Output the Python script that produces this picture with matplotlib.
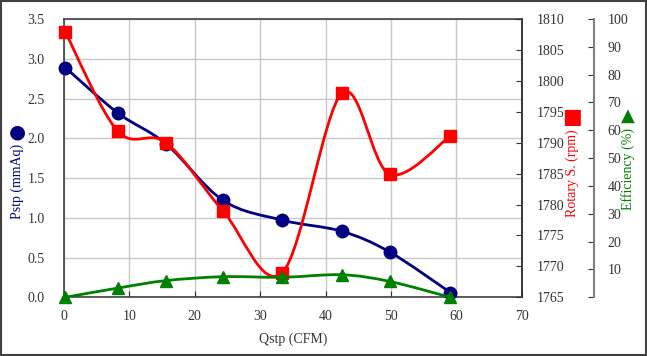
import matplotlib as mpl
mpl.use('Agg')
import matplotlib.pyplot as plt
import numpy as np
from matplotlib.path import Path
from matplotlib.patches import PathPatch, Rectangle

# data
qstp = [0.2, 8.2, 15.6, 24.3, 33.4, 42.5, 49.8, 59.1]
pstp = [2.89, 2.32, 1.93, 1.22, 0.97, 0.83, 0.57, 0.06]
rpm = [1807.9, 1791.9, 1790.0, 1779.0, 1769.0, 1798.0, 1784.9, 1791.1]
eff = [0.0, 3.3, 6.0, 7.4, 7.2, 8.1, 5.7, 0.0]

x_ticks = [0, 10, 20, 30, 40, 50, 60, 70]
p_ticks = [0.0, 0.5, 1.0, 1.5, 2.0, 2.5, 3.0, 3.5]
rpm_ticks = [1765, 1770, 1775, 1780, 1785, 1790, 1795, 1800, 1805, 1810]
eff_ticks = [0, 10, 20, 30, 40, 50, 60, 70, 80, 90, 100]

plt.rcParams['font.family'] = ['Liberation Serif', 'DejaVu Sans']
plt.rcParams['font.size'] = 10

NAVY = '#000080'
RED = '#ff0000'
GREEN = '#008000'
TXT = '#333333'
FS = 10


def smooth_path(xs, ys):
    # excel style smoothed line: catmull-rom segments as cubic beziers
    pts = np.column_stack([xs, ys]).astype(float)
    n = len(pts)
    verts = [pts[0]]
    codes = [Path.MOVETO]
    for i in range(n - 1):
        p0 = pts[i - 1] if i > 0 else pts[i]
        p1 = pts[i]
        p2 = pts[i + 1]
        p3 = pts[i + 2] if i + 2 < n else pts[i + 1]
        verts += [p1 + (p2 - p0) / 6, p2 - (p3 - p1) / 6, p2]
        codes += [Path.CURVE4] * 3
    return Path(verts, codes)


fig = plt.figure(figsize=(6.47, 3.56), dpi=100)
ax = fig.add_axes([0.0989, 0.1649, 0.7074, 0.7817])
ax2 = ax.twinx()
ax3 = ax.twinx()

# Pstp
ax.add_patch(PathPatch(smooth_path(qstp, pstp), fill=False, ec=NAVY, lw=2.0, zorder=3))
ax.plot(qstp, pstp, ls='none', marker='o', ms=9, color=NAVY, zorder=4, clip_on=False)
ax.set_xlim(0, 70)
ax.set_ylim(0, 3.5)
ax.set_xticks(x_ticks)
ax.set_yticks(p_ticks)
ax.set_yticklabels(['%.1f' % v for v in p_ticks])
ax.grid(True, color='#c8c8c8', lw=1.0)
ax.set_axisbelow(True)
ax.tick_params(axis='both', direction='in', length=4, colors=TXT, labelsize=FS)
ax.tick_params(axis='x', pad=9)
ax.tick_params(axis='y', pad=14, length=0)

# Rotary speed
ax2.add_patch(PathPatch(smooth_path(qstp, rpm), fill=False, ec=RED, lw=2.0, zorder=3))
ax2.plot(qstp, rpm, ls='none', marker='s', ms=8.5, color=RED, zorder=4, clip_on=False)
ax2.set_ylim(1765, 1810)
ax2.set_yticks(rpm_ticks)
ax2.tick_params(axis='y', direction='in', length=4, colors=TXT, labelsize=FS, pad=11)

# Efficiency
ax3.add_patch(PathPatch(smooth_path(qstp, eff), fill=False, ec=GREEN, lw=2.0, zorder=3))
ax3.plot(qstp, eff, ls='none', marker='^', ms=8.5, color=GREEN, zorder=4, clip_on=False)
ax3.set_ylim(0, 100)
ax3.set_yticks(eff_ticks)
ax3.set_yticklabels([''] + [str(v) for v in eff_ticks[1:]])
ax3.spines['right'].set_position(('axes', 1.157))
ax3.spines['right'].set_color('#808080')
ax3.spines['right'].set_linewidth(1.5)
ax3.tick_params(axis='y', direction='in', length=4, colors=TXT, labelsize=FS, pad=10)
for a in (ax2, ax3):
    a.spines['top'].set_visible(False)
    a.spines['left'].set_visible(False)
    a.spines['bottom'].set_visible(False)

for s in ['left', 'bottom', 'top']:
    ax.spines[s].set_color('#404040')
ax2.spines['right'].set_color('#404040')
for a in (ax, ax2):
    for s in a.spines.values():
        s.set_linewidth(1.2)

# axis titles
ax.set_xlabel('Qstp (CFM)', color=TXT, fontsize=FS, labelpad=7)
fig.text(17 / 647, 1 - 181 / 356, 'Pstp (mmAq)', rotation=90, color=NAVY,
         fontsize=FS, ha='center', va='center')
fig.text(17 / 647, 1 - 132 / 356, '\u25cf', color=NAVY, fontsize=14,
         family='DejaVu Sans', ha='center', va='center')
fig.text(572 / 647, 1 - 173 / 356, 'Rotary S. (rpm)', rotation=90, color=RED,
         fontsize=FS, ha='center', va='center')
fig.text(572 / 647, 1 - 117 / 356, '\u25a0', color=RED, fontsize=15,
         family='DejaVu Sans', ha='center', va='center')
fig.text(628 / 647, 1 - 169 / 356, 'Efficiency (%)', rotation=90, color=GREEN,
         fontsize=FS, ha='center', va='center')
fig.text(628 / 647, 1 - 116 / 356, '\u25b2', color=GREEN, fontsize=13,
         family='DejaVu Sans', ha='center', va='center')

# outer frame
fig.add_artist(Rectangle((0.002, 0.003), 0.996, 0.994, transform=fig.transFigure,
                         fill=False, ec='#404040', lw=1.5))

fig.savefig('out.png', dpi=100)
